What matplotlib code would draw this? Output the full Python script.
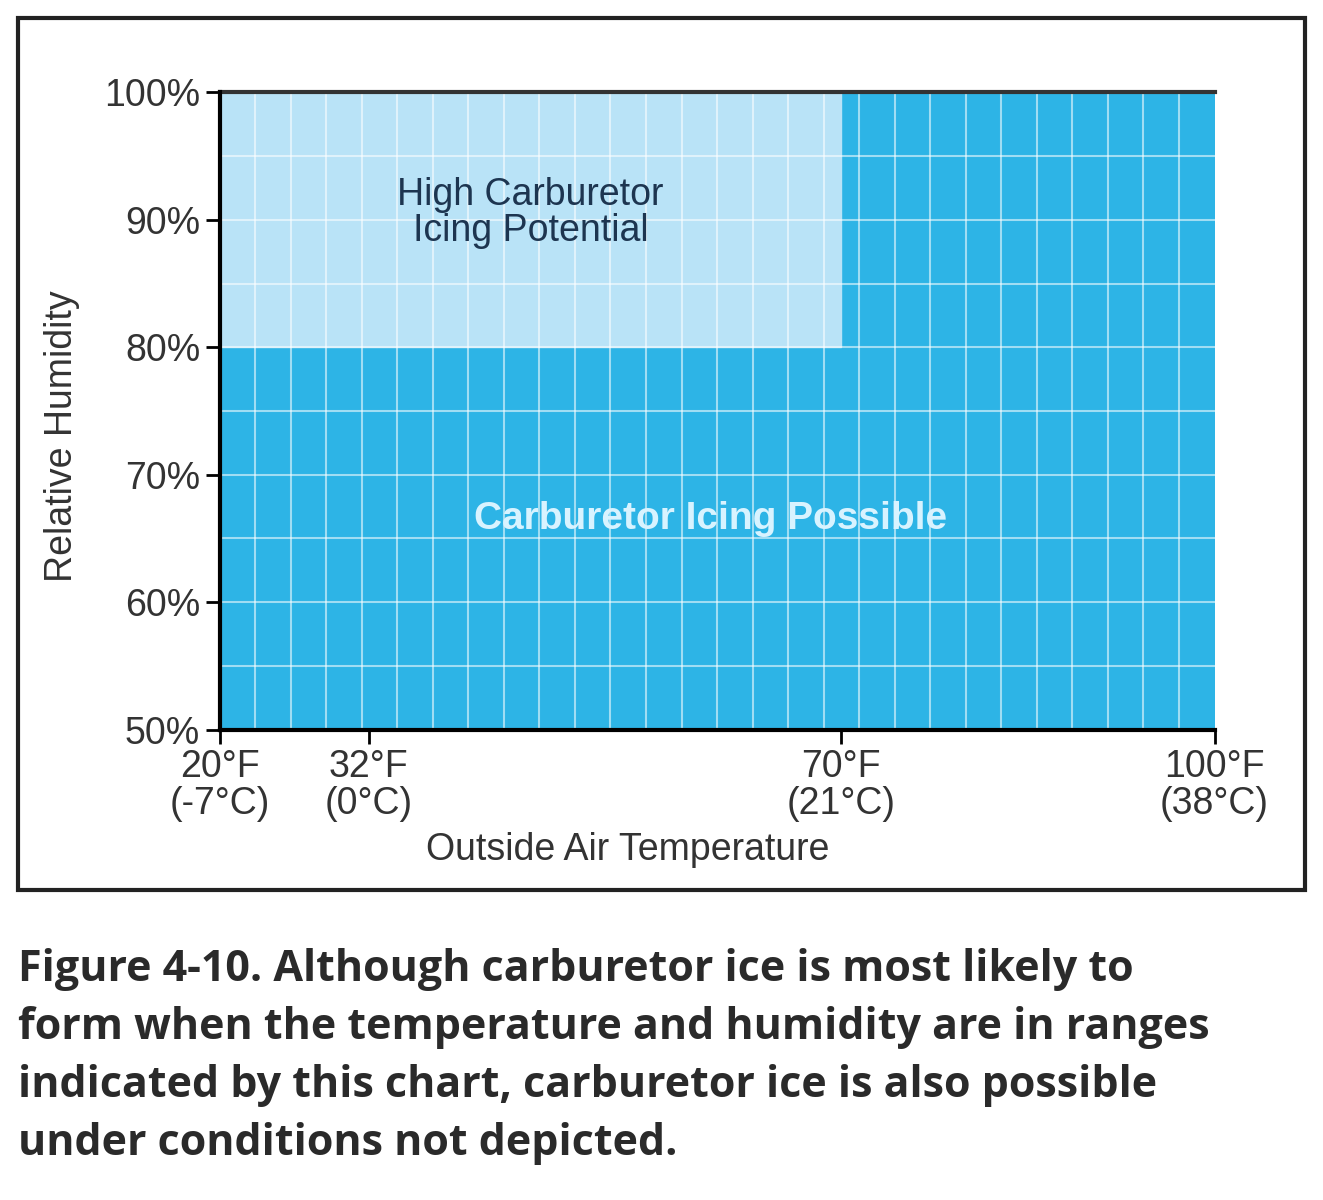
import numpy as np
import matplotlib.pyplot as plt
from matplotlib.patches import Rectangle

# data
temp_ticks = [20, 32, 70, 100]
temp_labels = ["20°F\n(-7°C)", "32°F\n(0°C)", "70°F\n(21°C)", "100°F\n(38°C)"]
hum_ticks = [50, 60, 70, 80, 90, 100]
hum_labels = ["50%", "60%", "70%", "80%", "90%", "100%"]
high_zone = (20, 70, 80, 100)  # t0, t1, h0, h1

DARK = "#2db4e6"
LIGHT = "#b9e3f7"

fig = plt.figure(figsize=(13.23, 12), dpi=100)
fig.patches.append(Rectangle((18 / 1323, 1 - 890 / 1200), 1287 / 1323, 872 / 1200,
                             transform=fig.transFigure, fill=False, ec="#222222", lw=3))

ax = fig.add_axes([0.166, 0.392, 0.752, 0.531])
ax.set_xlim(20, 100)
ax.set_ylim(50, 100)
ax.set_facecolor(DARK)

t0, t1, h0, h1 = high_zone
ax.add_patch(Rectangle((t0, h0), t1 - t0, h1 - h0, color=LIGHT, zorder=1))

# white grid
for x in np.linspace(20, 100, 29)[1:-1]:
    ax.axvline(x, color="white", lw=1.5, alpha=0.55, zorder=2)
for y in np.arange(55, 100, 5):
    ax.axhline(y, color="white", lw=1.5, alpha=0.55, zorder=2)

ax.text(45, 90.5, "High Carburetor\nIcing Potential", ha="center", va="center",
        fontsize=27, color="#1d3550", family="Liberation Sans", linespacing=1.0, zorder=3)
ax.text(59.5, 66.5, "Carburetor Icing Possible", ha="center", va="center",
        fontsize=28, color="#d8f3ff", weight="bold", family="Liberation Sans", zorder=3)

ax.set_xticks(temp_ticks)
ax.set_xticklabels(temp_labels, fontsize=27, family="Liberation Sans", color="#333333",
                   linespacing=1.05)
ax.set_yticks(hum_ticks)
ax.set_yticklabels(hum_labels, fontsize=27, family="Liberation Sans", color="#333333")
ax.tick_params(length=10, width=2, pad=4)
for s in ["top", "right"]:
    ax.spines[s].set_visible(False)
ax.spines["left"].set_linewidth(3)
ax.spines["bottom"].set_linewidth(3)
ax.spines["left"].set_zorder(4)
ax.spines["bottom"].set_zorder(4)
ax.plot([20, 100], [100, 100], color="#333333", lw=3, clip_on=False, zorder=4)

ax.set_ylabel("Relative Humidity", fontsize=27, family="Liberation Sans", color="#333333")
ax.set_xlabel("Outside Air Temperature", fontsize=27, family="Liberation Sans",
              color="#333333")
ax.xaxis.set_label_coords(0.41, -0.16)
ax.yaxis.set_label_coords(-0.14, 0.46)

caption = ("Figure 4-10. Although carburetor ice is most likely to\n"
           "form when the temperature and humidity are in ranges\n"
           "indicated by this chart, carburetor ice is also possible\n"
           "under conditions not depicted.")
fig.text(18 / 1323, 1 - 948 / 1200, caption, ha="left", va="top", fontsize=31,
         weight="bold", family="Open Sans", color="#2a2a2a", linespacing=1.45)

fig.savefig("out.png", dpi=100)
